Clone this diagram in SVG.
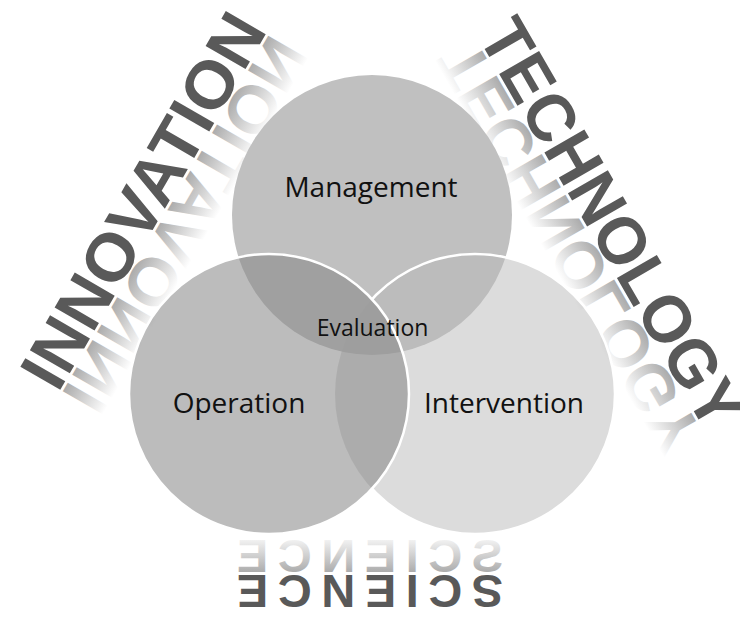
<svg xmlns="http://www.w3.org/2000/svg" width="740" height="633" viewBox="0 0 740 633">
<defs>
<style>
.word{font-family:"Liberation Sans",Arial,sans-serif;font-weight:bold;fill:#595959;text-anchor:middle;}
.lbl{font-family:"Open Sans","Liberation Sans",sans-serif;fill:#111;text-anchor:middle;}
.big{font-size:28px;}
</style>
<linearGradient id="reflBig" gradientUnits="userSpaceOnUse" x1="0" y1="0" x2="0" y2="-46">
<stop offset="0" stop-color="#595959" stop-opacity="0.5"/>
<stop offset="1" stop-color="#595959" stop-opacity="0"/>
</linearGradient>
<linearGradient id="reflSmall" gradientUnits="userSpaceOnUse" x1="0" y1="0" x2="0" y2="-36">
<stop offset="0" stop-color="#595959" stop-opacity="0.5"/>
<stop offset="1" stop-color="#595959" stop-opacity="0.03"/>
</linearGradient>
<mask id="outsideO" maskUnits="userSpaceOnUse" x="0" y="0" width="740" height="633">
<rect width="740" height="633" fill="#fff"/>
<circle cx="269" cy="394" r="140" fill="#000"/>
</mask>
</defs>
<rect width="740" height="633" fill="#fff"/>

<g id="word-innovation" transform="translate(163,212) rotate(-60)">
<text class="word" x="0" y="0" font-size="67" textLength="420" lengthAdjust="spacingAndGlyphs">INNOVATION</text>
<text class="word" x="0" y="0" transform="translate(0,3) scale(1,-1)" style="fill:url(#reflBig)" font-size="67" textLength="420" lengthAdjust="spacingAndGlyphs">INNOVATION</text>
</g>

<g id="word-technology" transform="translate(592,235) rotate(60)">
<text class="word" x="0" y="0" font-size="67" textLength="460" lengthAdjust="spacingAndGlyphs">TECHNOLOGY</text>
<text class="word" x="0" y="0" transform="translate(0,3) scale(1,-1)" style="fill:url(#reflBig)" font-size="67" textLength="460" lengthAdjust="spacingAndGlyphs">TECHNOLOGY</text>
</g>

<g id="word-science" transform="translate(370,575) rotate(180)">
<text class="word" x="0" y="0" font-size="47" textLength="266" lengthAdjust="spacing">SCIENCE</text>
<text class="word" x="0" y="0" transform="translate(0,3) scale(1,-1)" style="fill:url(#reflSmall)" font-size="47" textLength="266" lengthAdjust="spacing">SCIENCE</text>
</g>

<g id="node-management">
<circle cx="372" cy="215" r="140" fill="#c0c0c0"/>
<text class="lbl big" x="371" y="197">Management</text>
</g>

<g id="node-intervention">
<circle cx="475" cy="394" r="140" fill="#b8b8b8" fill-opacity="0.49"/>
<circle cx="475" cy="394" r="140" fill="none" stroke="#fff" stroke-width="2.5" mask="url(#outsideO)"/>
</g>

<g id="node-operation">
<circle cx="269" cy="394" r="140" fill="#868686" fill-opacity="0.556" stroke="#fff" stroke-width="2.5"/>
</g>

<g id="labels">
<text class="lbl big" x="239" y="413">Operation</text>
<text class="lbl big" x="504" y="413">Intervention</text>
<text id="node-evaluation" class="lbl" x="372.5" y="336" font-size="23">Evaluation</text>
</g>
</svg>
